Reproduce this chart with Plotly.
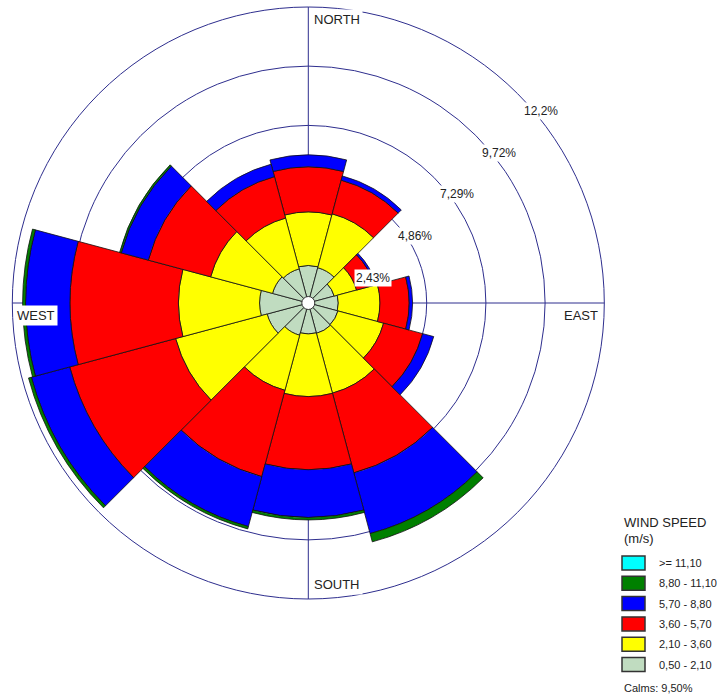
import plotly.graph_objects as go

# ---------------- data ----------------
directions = [0, 30, 60, 90, 120, 150, 180, 210, 240, 270, 300, 330]
# frequency (%) per speed class and direction
speed_labels = ["0,50 - 2,10", "2,10 - 3,60", "3,60 - 5,70", "5,70 - 8,80", "8,80 - 11,10", ">= 11,10"]
freq_050_210 = [1.54, 1.50, 1.10, 1.23, 1.26, 1.29, 1.27, 1.37, 1.75, 2.00, 1.52, 1.45]
freq_210_360 = [2.20, 2.29, 0.95, 1.71, 1.94, 2.54, 2.57, 2.34, 3.89, 3.33, 2.63, 2.16]
freq_360_570 = [1.85, 1.43, 0.75, 1.20, 1.66, 3.39, 3.00, 3.67, 4.50, 4.45, 2.65, 1.76]
freq_570_880 = [0.49, 0.18, 0.08, 0.14, 0.47, 2.58, 1.96, 2.12, 1.63, 1.82, 1.15, 0.53]
freq_880_1110 = [0.00, 0.00, 0.00, 0.00, 0.00, 0.35, 0.10, 0.10, 0.12, 0.12, 0.07, 0.00]
freq_ge_1110 = [0.00] * 12
series = [freq_050_210, freq_210_360, freq_360_570, freq_570_880, freq_880_1110, freq_ge_1110]
colors = ["#C0DCC0", "#FFFF00", "#FF0000", "#0000FF", "#008000", "#00FFFF"]

radial_ticks = [2.43, 4.86, 7.29, 9.72]
radial_max = 12.15
radial_tick_labels = ["2,43%", "4,86%", "7,29%", "9,72%", "12,2%"]
compass_labels = ["NORTH", "EAST", "SOUTH", "WEST"]
legend_title = ["WIND SPEED", "(m/s)"]
calms_text = "Calms: 9,50%"

# ---------------- layout geometry ----------------
W, H = 717, 695
CX, CY, RPX = 308.3, 303.0, 296.0
GRID = "#2e2e8e"
FONT = "Liberation Sans, Arial, sans-serif"
TXT = "#222222"


def px(x, y):
    return x / W, 1 - y / H


fig = go.Figure()
for vals, name, col in zip(series, speed_labels, colors):
    if sum(vals) == 0:
        continue
    fig.add_trace(go.Barpolar(
        r=vals, theta=directions, width=[30] * len(directions), name=name,
        marker=dict(color=col, line=dict(color="#111111", width=0.8)),
        showlegend=False,
    ))

# white centre (calms circle)
fig.add_trace(go.Scatterpolar(
    r=[0], theta=[0], mode="markers", showlegend=False,
    marker=dict(size=13, color="white", line=dict(color="#333333", width=1)),
))

annotations = []
# radial tick labels along the NE diagonal
for v, lab in zip(radial_ticks + [radial_max], radial_tick_labels):
    r = v / radial_max * RPX
    x, y = px(CX + r * 0.7071 + 4, CY - r * 0.7071 + 8)
    annotations.append(dict(x=x, y=y, xref="paper", yref="paper", text=lab, showarrow=False,
                            xanchor="left", yanchor="top", bgcolor="white", borderpad=1,
                            font=dict(size=12, family=FONT, color=TXT)))

# compass labels
comp_pos = [
    (CX + 3, CY - RPX + 12, "left", "middle"),
    (CX + RPX - 3, CY + 12.5, "right", "middle"),
    (CX + 3, CY + RPX - 15, "left", "middle"),
    (CX - RPX + 2, CY + 12.5, "left", "middle"),
]
for lab, (x0, y0, xa, ya) in zip(compass_labels, comp_pos):
    x, y = px(x0, y0)
    annotations.append(dict(x=x, y=y, xref="paper", yref="paper", text=lab, showarrow=False,
                            xanchor=xa, yanchor=ya, bgcolor="white", borderpad=2,
                            font=dict(size=13, family=FONT, color=TXT)))

# custom legend
shapes = []
LX = 622
x, y = px(LX, 522.5)
annotations.append(dict(x=x, y=y, xref="paper", yref="paper", text=legend_title[0], showarrow=False,
                        xanchor="left", yanchor="middle", font=dict(size=13, family=FONT, color=TXT)))
x, y = px(LX, 538.5)
annotations.append(dict(x=x, y=y, xref="paper", yref="paper", text=legend_title[1], showarrow=False,
                        xanchor="left", yanchor="middle", font=dict(size=13, family=FONT, color=TXT)))
legend_items = list(zip(speed_labels, colors))[::-1]
for i, (lab, col) in enumerate(legend_items):
    yc = 563 + i * 20.3
    x0, y0 = px(LX, yc - 7)
    x1, y1 = px(LX + 23, yc + 7)
    shapes.append(dict(type="rect", xref="paper", yref="paper", x0=x0, y0=y1, x1=x1, y1=y0,
                       fillcolor=col, line=dict(color="#333333", width=1.5)))
    x, y = px(657, yc)
    annotations.append(dict(x=x, y=y, xref="paper", yref="paper", text=lab, showarrow=False,
                            xanchor="left", yanchor="middle", font=dict(size=11, family=FONT, color=TXT)))
x, y = px(LX, 687.5)
annotations.append(dict(x=x, y=y, xref="paper", yref="paper", text=calms_text, showarrow=False,
                        xanchor="left", yanchor="middle", font=dict(size=11, family=FONT, color=TXT)))

fig.update_layout(
    width=W, height=H, margin=dict(l=0, r=0, t=0, b=0),
    paper_bgcolor="white", plot_bgcolor="white", showlegend=False,
    font=dict(family=FONT, color=TXT),
    polar=dict(
        domain=dict(x=[(CX - RPX) / W, (CX + RPX) / W], y=[1 - (CY + RPX) / H, 1 - (CY - RPX) / H]),
        bgcolor="white", barmode="stack", bargap=0,
        radialaxis=dict(range=[0, radial_max], tickvals=radial_ticks, showticklabels=False, ticks="",
                        showline=False, gridcolor=GRID, gridwidth=1, layer="below traces"),
        angularaxis=dict(rotation=90, direction="clockwise", tickvals=[0, 90, 180, 270],
                         showticklabels=False, ticks="", showline=True, linecolor=GRID, linewidth=1,
                         gridcolor=GRID, gridwidth=1, layer="below traces"),
    ),
    annotations=annotations, shapes=shapes,
)

fig.write_html("out.html")
